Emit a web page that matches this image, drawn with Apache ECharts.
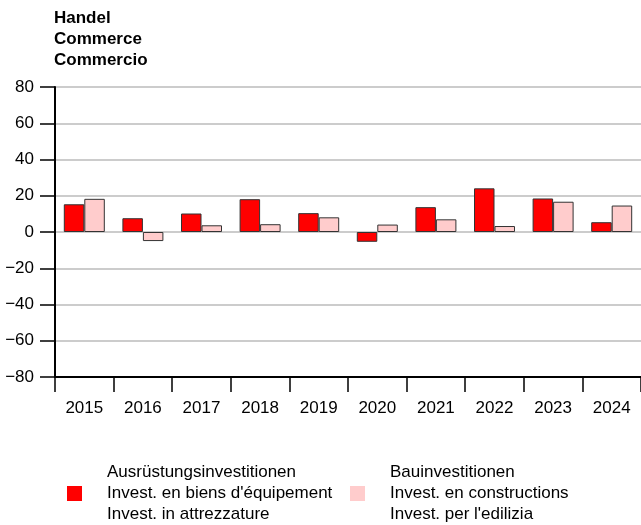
<!DOCTYPE html>
<html>
<head>
<meta charset="utf-8">
<script src="https://cdn.jsdelivr.net/npm/echarts@6/dist/echarts.min.js"></script>
<style>html,body{margin:0;padding:0;background:#fff}#c{width:641px;height:525px}</style>
</head>
<body>
<div id="c"></div>
<script>
const categories = ['2015','2016','2017','2018','2019','2020','2021','2022','2023','2024'];
const equipment = [15.3, 7.6, 10.2, 18.1, 10.4, -5.4, 13.7, 24.1, 18.5, 5.4];
const construction = [18.3, -5.0, 3.7, 4.3, 8.1, 4.1, 7.0, 3.3, 16.7, 14.6];
const yTicks = [-80, -60, -40, -20, 0, 20, 40, 60, 80];
const titleLines = ['Handel', 'Commerce', 'Commercio'];
const name1 = 'Ausrüstungsinvestitionen\nInvest. en biens d\'équipement\nInvest. in attrezzature';
const name2 = 'Bauinvestitionen\nInvest. en constructions\nInvest. per l\'edilizia';

const font = '"Liberation Sans", Arial, sans-serif';
const chart = echarts.init(document.getElementById('c'));
const legendBase = {
  top: 462, itemWidth: 15, itemHeight: 15, icon: 'rect', padding: 0,
  itemStyle: { borderWidth: 0 },
  textStyle: { fontFamily: font, fontSize: 17, color: '#000', lineHeight: 21, padding: [0, 0, 0, 20] }
};
chart.setOption({
  animation: false,
  textStyle: { fontFamily: font },
  title: {
    text: titleLines.join('\n'), left: 54, top: 7.5, padding: 0,
    textStyle: { fontFamily: font, fontSize: 17, fontWeight: 'bold', color: '#000', lineHeight: 21 }
  },
  legend: [
    Object.assign({}, legendBase, { left: 67, data: [name1] }),
    Object.assign({}, legendBase, { left: 350, data: [name2] })
  ],
  grid: { left: 55, right: 0, top: 87, bottom: 148, containLabel: false },
  xAxis: {
    type: 'category', data: categories,
    axisLine: { onZero: false, lineStyle: { color: '#000', width: 2 } },
    axisTick: { show: true, length: 15, alignWithLabel: false, lineStyle: { color: '#000', width: 1.5 } },
    axisLabel: { color: '#000', fontSize: 17, margin: 23, fontFamily: font },
    splitLine: { show: false }
  },
  yAxis: {
    type: 'value', min: -80, max: 80, interval: 20,
    axisLine: { show: true, lineStyle: { color: '#000', width: 2 } },
    axisTick: { show: true, length: 15, lineStyle: { color: '#000', width: 1.5 } },
    axisLabel: { color: '#000', fontSize: 17, margin: 21, fontFamily: font,
      formatter: v => yTicks.includes(v) ? String(v).replace('-', '\u2212') : '' },
    splitLine: { show: true, lineStyle: { color: '#cccccc', width: 2 } }
  },
  series: [
    { name: name1, type: 'bar', data: equipment, barWidth: 20.5, barGap: '0%',
      itemStyle: { color: '#ff0000', borderColor: '#333', borderWidth: 1 } },
    { name: name2, type: 'bar', data: construction, barWidth: 20.5, barGap: '0%',
      itemStyle: { color: '#ffcccc', borderColor: '#333', borderWidth: 1 } }
  ]
});
</script>
</body>
</html>
